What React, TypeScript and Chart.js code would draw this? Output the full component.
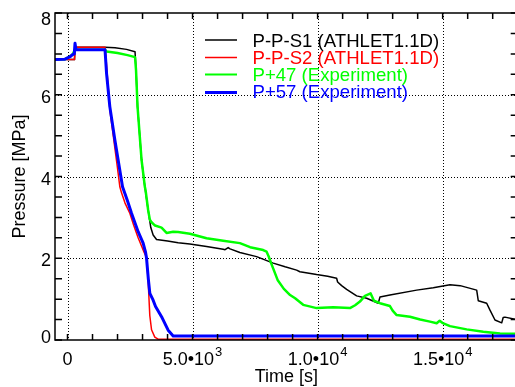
import React, { useEffect, useRef } from "react";
import { Chart, registerables } from "chart.js";

Chart.register(...registerables);

// ---------- axis settings ----------
const X_MIN = -500;
const X_MAX = 18000;
const Y_MIN = 0;
const Y_MAX = 8;
const xGridValues = [0, 5000, 10000, 15000];
const yGridValues = [2, 4, 6];
const xMinorStep = 1000;
const yMinorStep = 0.5;

// ---------- tick labels ----------
const xLabelValues = [0, 5000, 10000, 15000];
const xLabelMantissa = ["0", "5.0•10", "1.0•10", "1.5•10"];
const xLabelExponent = ["", "3", "4", "4"];
const yLabelValues = [0, 2, 4, 6, 8];
const yLabelTexts = ["0", "2", "4", "6", "8"];
const xTitle = "Time [s]";
const yTitle = "Pressure [MPa]";

// ---------- series ----------
const seriesNames = [
  "P-P-S1 (ATHLET1.1D)",
  "P-P-S2 (ATHLET1.1D)",
  "P+47 (Experiment)",
  "P+57 (Experiment)",
];

const blackT = [-500, 0, 280, 300, 1500, 1900, 2360, 2700, 2740, 2800, 2960, 3092, 3224, 3330, 3424, 3560, 4000, 4424, 4892, 5560, 6224, 6300, 6424, 6500, 6892, 7560, 8224, 8700, 9160, 9292, 9960, 10400, 10760, 10800, 10960, 11160, 11560, 11960, 12424, 12492, 12892, 13960, 14624, 15292, 15700, 16360, 16424, 16760, 16892, 17092, 17360, 17420, 17492, 17892, 18000];
const blackP = [6.88, 6.86, 6.86, 7.16, 7.16, 7.15, 7.11, 7.05, 6.6, 5.71, 4.41, 3.75, 3.18, 2.75, 2.57, 2.46, 2.42, 2.38, 2.35, 2.29, 2.22, 2.21, 2.26, 2.23, 2.14, 2.04, 1.88, 1.79, 1.71, 1.67, 1.6, 1.56, 1.51, 1.42, 1.33, 1.24, 1.08, 1.02, 0.9, 1.05, 1.1, 1.22, 1.28, 1.35, 1.33, 1.22, 0.96, 0.9, 0.73, 0.49, 0.42, 0.55, 0.56, 0.51, 0.5];

const redT = [-500, 0, 280, 300, 1500, 1540, 1600, 1700, 1850, 2000, 2092, 2160, 2300, 2492, 2650, 2824, 2960, 3060, 3160, 3220, 3290, 3360, 3490, 3620, 18000];
const redP = [6.88, 6.86, 6.86, 7.16, 7.16, 6.9, 6.4, 5.6, 4.9, 4.2, 3.75, 3.6, 3.35, 3.1, 2.8, 2.5, 2.3, 2.15, 2.02, 1.5, 0.6, 0.25, 0.07, 0.02, 0.02];

const greenT = [-500, -100, 0, 200, 300, 1500, 1560, 2000, 2400, 2700, 2740, 2800, 2960, 3092, 3120, 3224, 3292, 3360, 3500, 3760, 3960, 4224, 4424, 4892, 5560, 6224, 6892, 7300, 7824, 7960, 8040, 8160, 8400, 8650, 8900, 9100, 9424, 9960, 10624, 11292, 11500, 11692, 11892, 12120, 12252, 12492, 12892, 13000, 13160, 13692, 14100, 14492, 14760, 14880, 14984, 15292, 15960, 16624, 17292, 18000];
const greenP = [6.86, 6.87, 6.9, 6.98, 7.1, 7.1, 7.06, 7.02, 6.97, 6.92, 6.6, 5.71, 4.41, 3.75, 3.67, 3.18, 2.94, 2.88, 2.8, 2.75, 2.62, 2.65, 2.64, 2.6, 2.49, 2.43, 2.37, 2.27, 2.2, 2.16, 2.05, 1.85, 1.47, 1.25, 1.1, 1.02, 0.86, 0.78, 0.8, 0.78, 0.85, 0.94, 1.08, 1.14, 0.96, 0.9, 0.83, 0.72, 0.61, 0.57, 0.5, 0.45, 0.41, 0.47, 0.42, 0.34, 0.26, 0.2, 0.16, 0.15];

const blueT = [-500, -100, 0, 100, 200, 270, 300, 340, 1500, 1560, 1692, 1892, 2200, 2400, 2560, 2824, 3024, 3120, 3160, 3230, 3292, 3420, 3520, 3760, 4024, 4224, 18000];
const blueP = [6.86, 6.87, 6.9, 6.93, 6.98, 7.0, 7.26, 7.1, 7.1, 6.53, 5.71, 4.9, 3.75, 3.4, 3.1, 2.65, 2.37, 2.15, 2.0, 1.5, 1.14, 0.98, 0.82, 0.57, 0.24, 0.1, 0.1];

const seriesColors = ["#000000", "#ff0000", "#00ff00", "#0000ff"];
const seriesWidths = [1.5, 1.5, 2.5, 3];
const legendWidths = [1.5, 1.5, 2, 3];

const FONT = "'Liberation Sans', Arial, Helvetica, sans-serif";

const toPoints = (t: number[], p: number[]) => t.map((v, i) => ({ x: v, y: p[i] }));

const decorPlugin = {
  id: "decor",
  beforeDatasetsDraw(chart: any) {
    const { ctx, chartArea: a, scales } = chart;
    const xs = scales.x;
    const ys = scales.y;
    ctx.save();
    ctx.strokeStyle = "#000";
    ctx.lineWidth = 1;
    ctx.setLineDash([1, 2]);
    for (const v of xGridValues) {
      const px = Math.round(xs.getPixelForValue(v)) + 0.5;
      ctx.beginPath();
      ctx.moveTo(px, a.top);
      ctx.lineTo(px, a.bottom);
      ctx.stroke();
    }
    for (const v of yGridValues) {
      const py = Math.round(ys.getPixelForValue(v)) + 0.5;
      ctx.beginPath();
      ctx.moveTo(a.left, py);
      ctx.lineTo(a.right, py);
      ctx.stroke();
    }
    ctx.restore();
  },
  afterDatasetsDraw(chart: any) {
    const { ctx, chartArea: a, scales } = chart;
    const xs = scales.x;
    const ys = scales.y;
    ctx.save();
    ctx.setLineDash([]);
    ctx.strokeStyle = "#000";
    ctx.lineWidth = 1.5;
    // frame
    ctx.strokeRect(a.left, a.top, a.right - a.left, a.bottom - a.top);
    // x ticks (inward, top and bottom)
    const xTickLen = 6;
    for (let v = 0; v <= X_MAX; v += xMinorStep) {
      const px = xs.getPixelForValue(v);
      ctx.beginPath();
      ctx.moveTo(px, a.bottom);
      ctx.lineTo(px, a.bottom - xTickLen);
      ctx.moveTo(px, a.top);
      ctx.lineTo(px, a.top + xTickLen);
      ctx.stroke();
    }
    // y ticks (inward, left and right)
    const yTickLen = 7;
    for (let v = Y_MIN; v <= Y_MAX + 1e-9; v += yMinorStep) {
      const py = ys.getPixelForValue(v);
      ctx.beginPath();
      ctx.moveTo(a.left, py);
      ctx.lineTo(a.left + yTickLen, py);
      ctx.moveTo(a.right, py);
      ctx.lineTo(a.right - yTickLen, py);
      ctx.stroke();
    }
    // y labels
    ctx.fillStyle = "#000";
    ctx.font = `18px ${FONT}`;
    ctx.textAlign = "right";
    ctx.textBaseline = "alphabetic";
    yLabelValues.forEach((v, i) => {
      const py = ys.getPixelForValue(v);
      const cy = Math.min(Math.max(py + 1.5, 18.5), 336);
      ctx.fillText(yLabelTexts[i], a.left - 4, cy + 6.5);
    });
    // x labels with superscript exponent
    xLabelValues.forEach((v, i) => {
      const px = xs.getPixelForValue(v);
      ctx.font = `18px ${FONT}`;
      const w1 = ctx.measureText(xLabelMantissa[i]).width;
      ctx.font = `13px ${FONT}`;
      const w2 = xLabelExponent[i] ? ctx.measureText(xLabelExponent[i]).width + 1 : 0;
      const start = px - (w1 + w2) / 2;
      ctx.textAlign = "left";
      ctx.font = `18px ${FONT}`;
      ctx.fillText(xLabelMantissa[i], start, 365);
      if (xLabelExponent[i]) {
        ctx.font = `13px ${FONT}`;
        ctx.fillText(xLabelExponent[i], start + w1 + 1, 355.5);
      }
    });
    // axis titles
    ctx.font = `18px ${FONT}`;
    ctx.textAlign = "center";
    ctx.textBaseline = "alphabetic";
    ctx.fillText(xTitle, (55 + 517.7) / 2, 382);
    ctx.save();
    ctx.translate(25, (a.top + a.bottom) / 2);
    ctx.rotate(-Math.PI / 2);
    ctx.fillText(yTitle, 0, 0);
    ctx.restore();
    // legend
    const rowY = [40, 57.5, 74.5, 92.5];
    const textY = [40, 57, 74, 91.5];
    seriesNames.forEach((name, i) => {
      ctx.strokeStyle = seriesColors[i];
      ctx.lineWidth = legendWidths[i];
      ctx.beginPath();
      ctx.moveTo(205, rowY[i]);
      ctx.lineTo(237, rowY[i]);
      ctx.stroke();
      ctx.fillStyle = seriesColors[i];
      ctx.textAlign = "left";
      ctx.font = `18.6px ${FONT}`;
      ctx.fillText(name, 252.5, textY[i] + 6.7);
    });
    ctx.restore();
  },
};

export default function App() {
  const canvasRef = useRef<HTMLCanvasElement | null>(null);

  useEffect(() => {
    const canvas = canvasRef.current;
    if (!canvas) return;
    const seriesT = [blackT, redT, greenT, blueT];
    const seriesP = [blackP, redP, greenP, blueP];
    const chart = new Chart(canvas, {
      type: "line",
      data: {
        datasets: seriesNames.map((name, i) => ({
          label: name,
          data: toPoints(seriesT[i], seriesP[i]),
          borderColor: seriesColors[i],
          backgroundColor: seriesColors[i],
          borderWidth: seriesWidths[i],
          pointRadius: 0,
          tension: 0,
          fill: false,
          borderJoinStyle: "round" as const,
          order: 4 - i,
        })),
      },
      options: {
        animation: false,
        responsive: false,
        maintainAspectRatio: false,
        devicePixelRatio: 1,
        layout: { padding: { left: 55, top: 13, right: 530 - 517.7, bottom: 47 } },
        plugins: {
          legend: { display: false },
          tooltip: { enabled: false },
        },
        scales: {
          x: { type: "linear", min: X_MIN, max: X_MAX, display: false },
          y: { type: "linear", min: Y_MIN, max: Y_MAX, display: false },
        },
      },
      plugins: [decorPlugin],
    });
    return () => chart.destroy();
  }, []);

  return (
    <div
      style={{
        position: "fixed",
        left: 0,
        top: 0,
        width: 515,
        height: 387,
        overflow: "hidden",
        background: "#fff",
      }}
    >
      <canvas ref={canvasRef} width={530} height={387} style={{ display: "block" }} />
    </div>
  );
}
